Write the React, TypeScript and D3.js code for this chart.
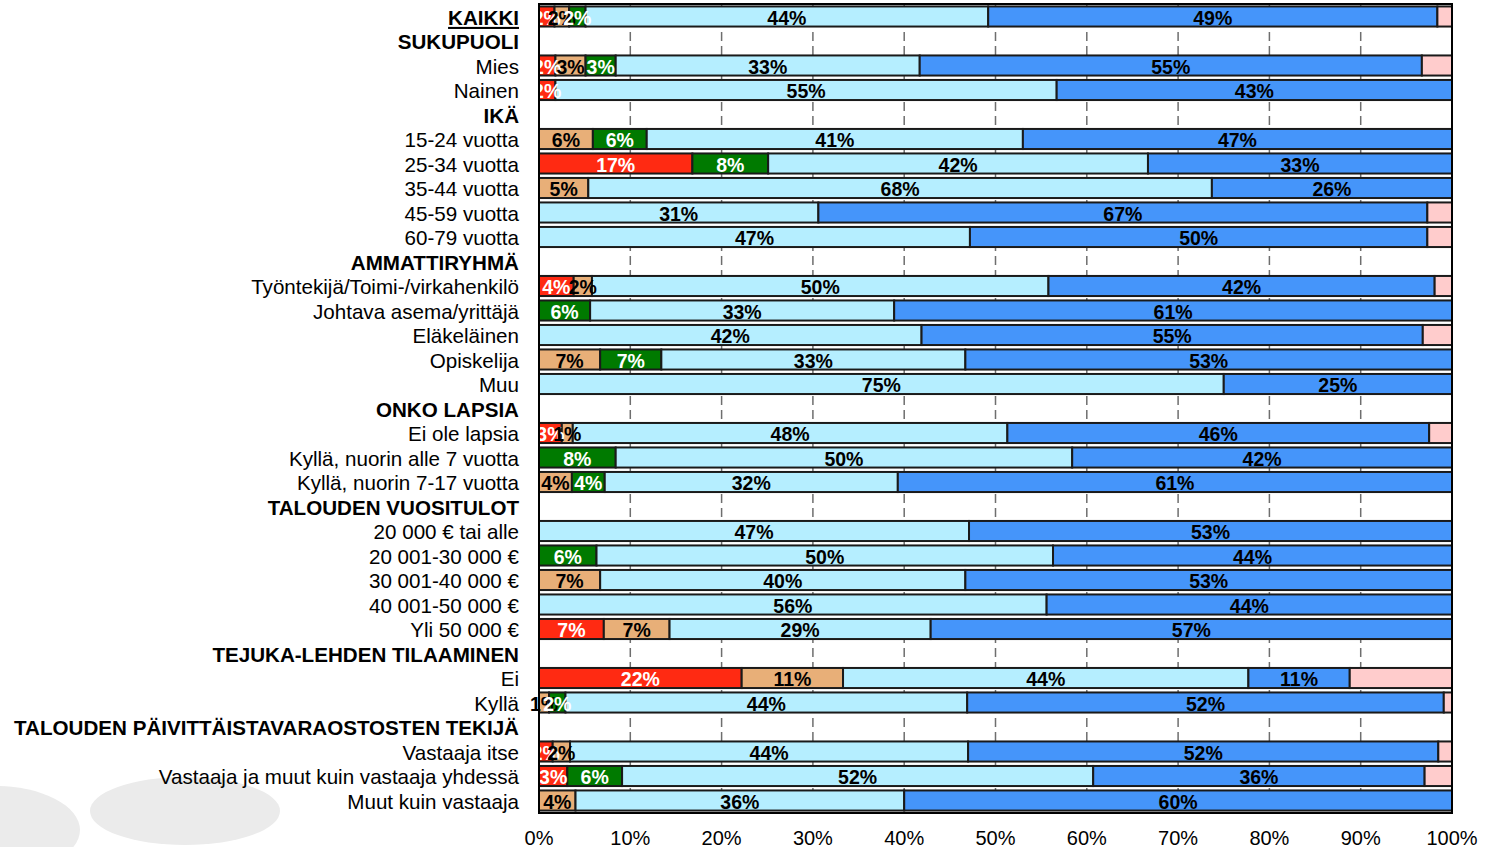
import React from "react";
import * as d3 from "d3";

const categories = [
  "KAIKKI", "SUKUPUOLI", "Mies", "Nainen", "IKÄ", "15-24 vuotta", "25-34 vuotta", "35-44 vuotta",
  "45-59 vuotta", "60-79 vuotta", "AMMATTIRYHMÄ", "Työntekijä/Toimi-/virkahenkilö",
  "Johtava asema/yrittäjä", "Eläkeläinen", "Opiskelija", "Muu", "ONKO LAPSIA", "Ei ole lapsia",
  "Kyllä, nuorin alle 7 vuotta", "Kyllä, nuorin 7-17 vuotta", "TALOUDEN VUOSITULOT",
  "20 000 € tai alle", "20 001-30 000 €", "30 001-40 000 €", "40 001-50 000 €", "Yli 50 000 €",
  "TEJUKA-LEHDEN TILAAMINEN", "Ei", "Kyllä", "TALOUDEN PÄIVITTÄISTAVARAOSTOSTEN TEKIJÄ",
  "Vastaaja itse", "Vastaaja ja muut kuin vastaaja yhdessä", "Muut kuin vastaaja",
];
const headers = ["KAIKKI", "SUKUPUOLI", "IKÄ", "AMMATTIRYHMÄ", "ONKO LAPSIA", "TALOUDEN VUOSITULOT",
  "TEJUKA-LEHDEN TILAAMINEN", "TALOUDEN PÄIVITTÄISTAVARAOSTOSTEN TEKIJÄ"];

// null = header row (no bar)
const red = [1.7, null, 1.8, 1.8, null, 0, 16.8, 0, 0, 0, null, 3.8, 0, 0, 0, 0, null, 2.5, 0, 0, null, 0, 0, 0, 0, 7.1, null, 22.2, 0, null, 1.5, 3.1, 0];
const tan = [1.6, null, 3.3, 0, null, 5.9, 0, 5.4, 0, 0, null, 2.0, 0, 0, 6.7, 0, null, 1.2, 0, 3.6, null, 0, 0, 6.7, 0, 7.2, null, 11.1, 1.1, null, 1.9, 0, 4.0];
const green = [1.8, null, 3.3, 0, null, 5.9, 8.3, 0, 0, 0, null, 0, 5.6, 0, 6.7, 0, null, 0, 8.4, 3.6, null, 0, 6.3, 0, 0, 0, null, 0, 1.8, null, 0, 6.0, 0];
const lightBlue = [44.1, null, 33.3, 54.9, null, 41.2, 41.6, 68.3, 30.6, 47.2, null, 50.0, 33.3, 41.9, 33.3, 75.0, null, 47.6, 50.0, 32.1, null, 47.1, 50.0, 40.0, 55.6, 28.6, null, 44.4, 44.0, null, 43.6, 51.6, 36.0];
const blue = [49.2, null, 55.0, 43.3, null, 47.0, 33.3, 26.3, 66.7, 50.1, null, 42.3, 61.1, 54.9, 53.3, 25.0, null, 46.2, 41.6, 60.7, null, 52.9, 43.7, 53.3, 44.4, 57.1, null, 11.1, 52.2, null, 51.5, 36.3, 60.0];
const pink = [1.6, null, 3.3, 0, null, 0, 0, 0, 2.7, 2.7, null, 1.9, 0, 3.2, 0, 0, null, 2.5, 0, 0, null, 0, 0, 0, 0, 0, null, 11.2, 0.9, null, 1.5, 3.0, 0];

const xTicks = [0, 10, 20, 30, 40, 50, 60, 70, 80, 90, 100];

const seriesList = [
  { key: "red", values: red, fill: "#FF2A12", text: "#FFFFFF", label: true },
  { key: "tan", values: tan, fill: "#E8AF78", text: "#000000", label: true },
  { key: "green", values: green, fill: "#007A00", text: "#FFFFFF", label: true },
  { key: "lightBlue", values: lightBlue, fill: "#B5EEFF", text: "#000000", label: true },
  { key: "blue", values: blue, fill: "#4595FA", text: "#000000", label: true },
  { key: "pink", values: pink, fill: "#FFCCCC", text: "#000000", label: false },
];

export default function App() {
  const W = 1489, H = 847;
  const x = d3.scaleLinear().domain([0, 100]).range([539, 1452]);
  const y = d3.scaleBand<number>().domain(categories.map((_, i) => i)).range([4, 813]).paddingInner(0.18).paddingOuter(0.1);
  const bw = y.bandwidth();
  const font = "Arial, 'Liberation Sans', Helvetica, sans-serif";

  const segs: any[] = [];
  categories.forEach((c, i) => {
    if (red[i] === null) return;
    let acc = 0;
    seriesList.forEach((s) => {
      const v = s.values[i] as number;
      if (v > 0) {
        segs.push({ i, s, x0: acc, x1: acc + v, v });
      }
      acc += v;
    });
  });

  return (
    <svg width={W} height={H} style={{ position: "absolute", left: 0, top: 0, background: "#fff" }} fontFamily={font}>
      <ellipse cx={185} cy={811} rx={95} ry={34} fill="#EBEBEB" />
      <ellipse cx={-5} cy={830} rx={85} ry={44} fill="#EBEBEB" />
      {/* gridlines */}
      {xTicks.filter((t) => t > 0 && t < 100).map((t) => (
        <line key={t} x1={x(t)} x2={x(t)} y1={4} y2={813} stroke="#6E6E6E" strokeWidth={1.5} strokeDasharray="9,5" />
      ))}
      {/* bars */}
      {segs.map((d, k) => (
        <rect key={k} x={x(d.x0)} y={y(d.i)!} width={x(d.x1) - x(d.x0)} height={bw}
          fill={d.s.fill} stroke="#1a1a1a" strokeWidth={2} />
      ))}
      {segs.filter((d) => d.s.label).map((d, k) => (
        <text key={"l" + k} x={(x(d.x0) + x(d.x1)) / 2} y={y(d.i)! + bw / 2 + 1} dy="0.36em"
          textAnchor="middle" fontWeight="bold" fontSize={19.5} fill={d.s.text}>
          {Math.round(d.v) + "%"}
        </text>
      ))}
      {/* frame */}
      <rect x={539} y={4} width={913} height={809} fill="none" stroke="#000" strokeWidth={2} />
      {/* category labels */}
      {categories.map((c, i) => {
        const isH = headers.includes(c);
        return (
          <text key={c} x={519} y={y(i)! + bw / 2 + 1} dy="0.36em" textAnchor="end" fontSize={20.6}
            fontWeight={isH ? "bold" : "normal"} textDecoration={c === "KAIKKI" ? "underline" : undefined} fill="#000">
            {c}
          </text>
        );
      })}
      {/* x tick labels */}
      {xTicks.map((t) => (
        <text key={"t" + t} x={x(t)} y={845} textAnchor="middle" fontSize={20} fill="#000">{t + "%"}</text>
      ))}
    </svg>
  );
}
